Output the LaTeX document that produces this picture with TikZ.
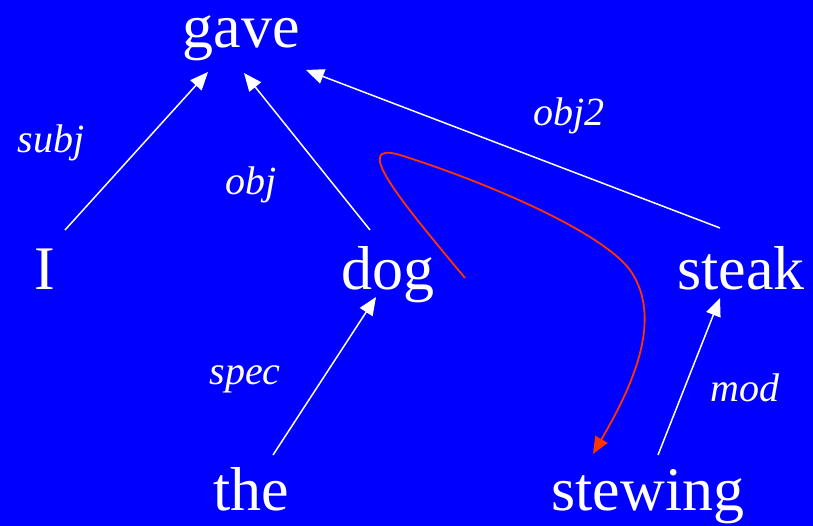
\documentclass[tikz,border=0pt]{standalone}
\usepackage{fontspec}
\setmainfont{Liberation Serif}
\usetikzlibrary{arrows.meta}
\definecolor{bg}{RGB}{0,0,255}
\definecolor{redc}{RGB}{255,51,0}
\begin{document}
\begin{tikzpicture}[x=1pt,y=-1pt,
  word/.style={text=white,font=\fontsize{62}{62}\selectfont,inner sep=0pt,anchor=base},
  lab/.style={text=white,font=\fontsize{40}{40}\selectfont\itshape,inner sep=0pt,anchor=base},
  dep/.style={draw=white,line width=1.5pt,-{Triangle[length=18pt,width=15pt]}},
  redarr/.style={draw=redc,line width=1.8pt,-{Triangle[length=17pt,width=14pt]}}]
\fill[bg] (0,0) rectangle (813,526);
\useasboundingbox (0,0) rectangle (813,526);
\node[word] (gave) at (241,48) {gave};
\node[word] (I) at (45,290) {I};
\node[word] (dog) at (388,290) {dog};
\node[word] (steak) at (741,290) {steak};
\node[word] (the) at (251,510) {the};
\node[word] (stewing) at (648,510) {stewing};
\node[lab] (subj) at (51,153) {subj};
\node[lab] (obj) at (251,195) {obj};
\node[lab] (objtwo) at (569,126) {obj2};
\node[lab] (spec) at (245,384) {spec};
\node[lab] (mod) at (745,401) {mod};
% connector end points
\coordinate (Ia) at (65,230);
\coordinate (gaveA) at (208,72);
\coordinate (dogA) at (370,230);
\coordinate (gaveB) at (244,73);
\coordinate (steakA) at (720,228);
\coordinate (gaveC) at (306,70);
\coordinate (theA) at (273,455);
\coordinate (dogB) at (376,297);
\coordinate (stewA) at (658,455);
\coordinate (steakB) at (720,298);
\coordinate (redS) at (465,278);
\coordinate (redE) at (593,454);
\draw[dep] (Ia) -- (gaveA);
\draw[dep] (dogA) -- (gaveB);
\draw[dep] (steakA) -- (gaveC);
\draw[dep] (theA) -- (dogB);
\draw[dep] (stewA) -- (steakB);
\draw[redarr] (redS) .. controls (400,200) and (350,140) .. (400,155)
  .. controls (480,180) and (600,230) .. (630,270)
  .. controls (665,320) and (630,390) .. (redE);
\end{tikzpicture}
\end{document}
